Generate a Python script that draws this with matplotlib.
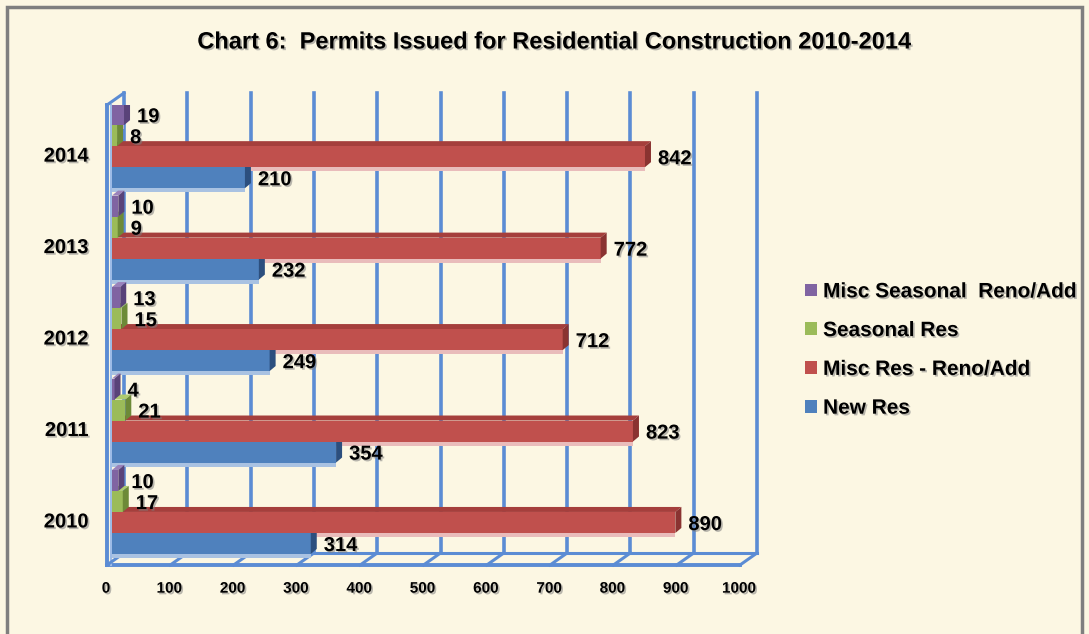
import matplotlib
matplotlib.use("Agg")
import matplotlib.pyplot as plt
import matplotlib.patheffects as pe
from matplotlib.patches import Polygon, Patch, Rectangle
from matplotlib.transforms import offset_copy, ScaledTranslation

# data
years = ["2010", "2011", "2012", "2013", "2014"]
new_res = [314, 354, 249, 232, 210]
misc_res = [890, 823, 712, 772, 842]
seasonal_res = [17, 21, 15, 9, 8]
misc_seasonal = [10, 4, 13, 10, 19]
series_names = ["New Res", "Misc Res - Reno/Add", "Seasonal Res", "Misc Seasonal  Reno/Add"]
x_ticks = list(range(0, 1001, 100))

# colours: front, top face, end face, reflection strip
front_c = ["#4f81bd", "#c0504d", "#9bbb59", "#8064a2"]
top_c = ["#3b68a0", "#a53f3c", "#aecb70", "#9a82bb"]
side_c = ["#2c4f7e", "#8a3331", "#6d8a38", "#594379"]
under_c = ["#a9c2e2", "#e9bcbb", "#cfe0aa", "#bcaed2"]
grid_c = "#5b8cd4"
bg = "#fcf7e3"

plt.rcParams["font.family"] = ["Liberation Sans", "DejaVu Sans"]
plt.rcParams["font.weight"] = "bold"

W, H = 1089, 634
fig = plt.figure(figsize=(W / 100, H / 100), dpi=100, facecolor=bg)
ax = fig.add_axes([112 / W, (H - 565) / H, 633 / W, 460 / H])
ax.set_facecolor("none")
ax.set_xlim(0, 1000)
ax.set_ylim(-0.58, 4.45)
for s in ax.spines.values():
    s.set_visible(False)

# pixel -> data scale
sx = 633 / 1000.0
sy = 460 / (4.45 + 0.58)
dx, dy = 6 / sx, 5 / sy
h = 21 / sy
shadow = [pe.withSimplePatchShadow(offset=(1.2, -1.2), shadow_rgbFace="#808080", alpha=0.55)]

# back wall, left wall and floor
front = offset_copy(ax.transData, fig=fig, x=-5, y=0, units="dots")
back = offset_copy(ax.transData, fig=fig, x=12, y=12, units="dots")
y0, y1 = ax.get_ylim()
for v in x_ticks:
    ax.plot([v, v], [y0, y1], transform=back, color=grid_c, lw=2.6, clip_on=False, zorder=0.5)
ax.plot([0, 1000], [y0, y0], transform=back, color=grid_c, lw=2.2, clip_on=False, zorder=0.5)
ax.plot([0, 1000], [y0, y0], transform=front, color=grid_c, lw=2.8, clip_on=False, zorder=0.6)
ax.plot([0, 0], [y0, y1], transform=front, color=grid_c, lw=2.8, clip_on=False, zorder=0.6)
ax.plot([0, 0], [y0, y1], transform=offset_copy(ax.transData, fig=fig, x=-1, y=0, units="dots"),
        color="#9dbbe6", lw=1.5, clip_on=False, zorder=0.6)
for v in x_ticks:
    p0 = front.transform((v, y0))
    p1 = back.transform((v, y0))
    ax.plot([p0[0], p1[0]], [p0[1], p1[1]], transform=None, color=grid_c, lw=2.2,
            clip_on=False, zorder=0.6)
pt0 = front.transform((0, y1))
pt1 = back.transform((0, y1))
ax.plot([pt0[0], pt1[0]], [pt0[1], pt1[1]], transform=None, color=grid_c, lw=2.2,
        clip_on=False, zorder=0.6)

series = [new_res, misc_res, seasonal_res, misc_seasonal]
offsets = [-1.5, -0.5, 0.5, 1.5]

# reflection strips first, so bars cover them
for k, vals in enumerate(series):
    for i, v in enumerate(vals):
        yc = i + offsets[k] * h
        b = yc - h / 2
        ax.add_patch(Rectangle((0, b - 4 / sy), v, 4 / sy, facecolor=under_c[k],
                               edgecolor="none", zorder=1))

for k, vals in enumerate(series):
    for i, v in enumerate(vals):
        yc = i + offsets[k] * h
        b, t = yc - h / 2, yc + h / 2
        z = 2 + k
        ax.add_patch(Polygon([(0, t), (v, t), (v + dx, t + dy), (dx, t + dy)],
                             closed=True, facecolor=top_c[k], edgecolor="none", zorder=z))
        ax.add_patch(Rectangle((0, b), v, h, facecolor=front_c[k], edgecolor="none", zorder=z))
        ax.add_patch(Polygon([(v, b), (v, t), (v + dx, t + dy), (v + dx, b + dy)],
                             closed=True, facecolor=side_c[k], edgecolor="none", zorder=z))
        ax.annotate(str(v), (v, yc), xytext=(13 * 0.72, -1.5), textcoords="offset points",
                    ha="left", va="center", fontsize=14.5, fontweight="bold",
                    color="black", zorder=10, path_effects=shadow)

# axis labels
ax.set_yticks(range(len(years)), years)
ax.set_xticks(x_ticks, [str(v) for v in x_ticks])
ax.tick_params(axis="y", length=0, pad=17, labelsize=14.5)
ax.tick_params(axis="x", length=0, pad=12, labelsize=11)
for lab in ax.get_yticklabels():
    lab.set_transform(lab.get_transform() + ScaledTranslation(0, -8 / 100, fig.dpi_scale_trans))
    lab.set_fontweight("bold")
    lab.set_path_effects(shadow)
for lab in ax.get_xticklabels():
    lab.set_transform(lab.get_transform() + ScaledTranslation(-6 / 100, 0, fig.dpi_scale_trans))
    lab.set_fontweight("bold")
    lab.set_path_effects(shadow)

fig.text(555 / W, 1 - 42 / H, "Chart 6:  Permits Issued for Residential Construction 2010-2014",
         ha="center", va="center", fontsize=17, fontweight="bold", path_effects=shadow)

handles = [Patch(facecolor=front_c[k], edgecolor="none") for k in (3, 2, 1, 0)]
labels = [series_names[k] for k in (3, 2, 1, 0)]
fig.legend(handles, labels, loc="center left", bbox_to_anchor=(797 / W, 1 - 350 / H),
           frameon=False, handlelength=0.55, handleheight=0.55, handletextpad=0.3,
           labelspacing=0.95, borderaxespad=0,
           prop={"size": 15, "weight": "bold"})
for t in fig.legends[0].get_texts():
    t.set_path_effects(shadow)

# outer frame
fig.patches.append(Rectangle((7 / W, -0.05), (W - 14) / W, 1 - 7 / H + 0.05,
                             transform=fig.transFigure, fill=False,
                             edgecolor="#7f7f7f", lw=2.5))

fig.savefig("out.png", dpi=100, facecolor=bg)
